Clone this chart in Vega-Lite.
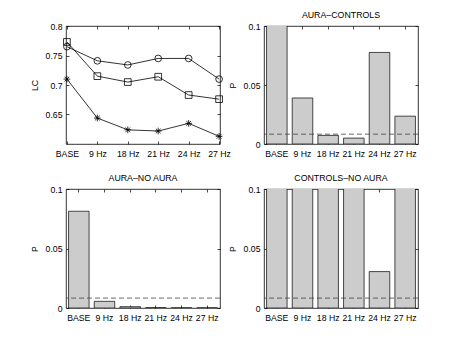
{
  "$schema": "https://vega.github.io/schema/vega-lite/v6.json",
  "padding": {"left": 29, "top": 10, "right": 5, "bottom": 5},
  "background": "white",
  "datasets": {
    "lc": [
      {"freq": "BASE", "series": "circle", "value": 0.765},
      {"freq": "9 Hz", "series": "circle", "value": 0.741},
      {"freq": "18 Hz", "series": "circle", "value": 0.734},
      {"freq": "21 Hz", "series": "circle", "value": 0.745},
      {"freq": "24 Hz", "series": "circle", "value": 0.745},
      {"freq": "27 Hz", "series": "circle", "value": 0.710},
      {"freq": "BASE", "series": "square", "value": 0.773},
      {"freq": "9 Hz", "series": "square", "value": 0.715},
      {"freq": "18 Hz", "series": "square", "value": 0.705},
      {"freq": "21 Hz", "series": "square", "value": 0.714},
      {"freq": "24 Hz", "series": "square", "value": 0.683},
      {"freq": "27 Hz", "series": "square", "value": 0.676},
      {"freq": "BASE", "series": "star", "value": 0.710},
      {"freq": "9 Hz", "series": "star", "value": 0.644},
      {"freq": "18 Hz", "series": "star", "value": 0.624},
      {"freq": "21 Hz", "series": "star", "value": 0.622},
      {"freq": "24 Hz", "series": "star", "value": 0.635},
      {"freq": "27 Hz", "series": "star", "value": 0.613}
    ],
    "p": [
      {"panel": "AURA–CONTROLS", "freq": "BASE", "value": 0.2},
      {"panel": "AURA–CONTROLS", "freq": "9 Hz", "value": 0.039},
      {"panel": "AURA–CONTROLS", "freq": "18 Hz", "value": 0.0073},
      {"panel": "AURA–CONTROLS", "freq": "21 Hz", "value": 0.005},
      {"panel": "AURA–CONTROLS", "freq": "24 Hz", "value": 0.0776},
      {"panel": "AURA–CONTROLS", "freq": "27 Hz", "value": 0.0236},
      {"panel": "AURA–NO AURA", "freq": "BASE", "value": 0.0813},
      {"panel": "AURA–NO AURA", "freq": "9 Hz", "value": 0.0056},
      {"panel": "AURA–NO AURA", "freq": "18 Hz", "value": 0.0011},
      {"panel": "AURA–NO AURA", "freq": "21 Hz", "value": 0.0002},
      {"panel": "AURA–NO AURA", "freq": "24 Hz", "value": 0.0001},
      {"panel": "AURA–NO AURA", "freq": "27 Hz", "value": 0.0001},
      {"panel": "CONTROLS–NO AURA", "freq": "BASE", "value": 0.3},
      {"panel": "CONTROLS–NO AURA", "freq": "9 Hz", "value": 0.3},
      {"panel": "CONTROLS–NO AURA", "freq": "18 Hz", "value": 0.3},
      {"panel": "CONTROLS–NO AURA", "freq": "21 Hz", "value": 0.3},
      {"panel": "CONTROLS–NO AURA", "freq": "24 Hz", "value": 0.0306},
      {"panel": "CONTROLS–NO AURA", "freq": "27 Hz", "value": 0.3}
    ],
    "thr": [{"value": 0.00833}]
  },
  "columns": 2,
  "spacing": {"row": 14, "column": -4},
  "concat": [
    {
      "width": 154,
      "height": 118,
      "data": {"name": "lc"},
      "layer": [
        {
          "mark": {"type": "line", "color": "#000", "strokeWidth": 0.8},
          "encoding": {
            "x": {"field": "freq", "type": "ordinal", "sort": ["BASE", "9 Hz", "18 Hz", "21 Hz", "24 Hz", "27 Hz"], "scale": {"type": "point", "padding": 0.03}, "axis": {"title": null, "labelAngle": 0}},
            "y": {"field": "value", "type": "quantitative", "scale": {"domain": [0.6, 0.8], "nice": false, "zero": false}, "axis": {"title": "LC", "values": [0.65, 0.7, 0.75, 0.8], "format": ".2~f"}},
            "detail": {"field": "series"}
          }
        },
        {
          "mark": {"type": "point", "filled": false, "color": "#000", "strokeWidth": 0.8, "opacity": 1},
          "encoding": {
            "x": {"field": "freq", "type": "ordinal", "sort": ["BASE", "9 Hz", "18 Hz", "21 Hz", "24 Hz", "27 Hz"], "axis": {"orient": "top", "labels": false, "title": null, "labelPadding": 0}},
            "y": {"field": "value", "type": "quantitative", "axis": {"orient": "right", "labels": false, "title": null, "labelPadding": 0, "values": [0.65, 0.7, 0.75, 0.8]}},
            "shape": {"field": "series", "type": "nominal", "legend": null, "scale": {"domain": ["circle", "square", "star"], "range": ["circle", "square", "M-1,0L1,0M0,-1L0,1M-0.7,-0.7L0.7,0.7M-0.7,0.7L0.7,-0.7"]}},
            "size": {"value": 45}
          }
        }
      ],
      "resolve": {"axis": {"x": "independent", "y": "independent"}}
    },
    {
      "width": 154,
      "height": 118,
      "title": "AURA–CONTROLS",
      "layer": [
        {
          "data": {"name": "p"},
          "transform": [{"filter": "datum.panel == 'AURA–CONTROLS'"}],
          "mark": {"type": "bar", "fill": "#cccccc", "stroke": "#000", "strokeWidth": 0.7, "clip": true},
          "encoding": {
            "x": {"field": "freq", "type": "ordinal", "sort": ["BASE", "9 Hz", "18 Hz", "21 Hz", "24 Hz", "27 Hz"], "scale": {"paddingInner": 0.2, "paddingOuter": 0.1}, "axis": {"title": null, "labelAngle": 0}},
            "y": {"field": "value", "type": "quantitative", "scale": {"domain": [0, 0.1], "nice": false}, "axis": {"title": "P", "values": [0, 0.05, 0.1], "format": ".2~f"}}
          }
        },
        {
          "data": {"name": "p"},
          "transform": [{"filter": "datum.panel == 'AURA–CONTROLS'"}],
          "mark": {"type": "tick", "opacity": 0},
          "encoding": {
            "x": {"field": "freq", "type": "ordinal", "sort": ["BASE", "9 Hz", "18 Hz", "21 Hz", "24 Hz", "27 Hz"], "axis": {"orient": "top", "labels": false, "title": null, "labelPadding": 0}},
            "y": {"datum": 0, "type": "quantitative", "axis": {"orient": "right", "labels": false, "title": null, "labelPadding": 0, "values": [0, 0.05, 0.1]}}
          }
        },
        {
          "data": {"name": "thr"},
          "mark": {"type": "rule", "color": "#444", "strokeWidth": 0.8, "strokeDash": [5, 3]},
          "encoding": {"y": {"field": "value", "type": "quantitative", "axis": null}}
        }
      ],
      "resolve": {"axis": {"x": "independent", "y": "independent"}}
    },
    {
      "width": 154,
      "height": 119,
      "title": "AURA–NO AURA",
      "layer": [
        {
          "data": {"name": "p"},
          "transform": [{"filter": "datum.panel == 'AURA–NO AURA'"}],
          "mark": {"type": "bar", "fill": "#cccccc", "stroke": "#000", "strokeWidth": 0.7, "clip": true},
          "encoding": {
            "x": {"field": "freq", "type": "ordinal", "sort": ["BASE", "9 Hz", "18 Hz", "21 Hz", "24 Hz", "27 Hz"], "scale": {"paddingInner": 0.2, "paddingOuter": 0.1}, "axis": {"title": null, "labelAngle": 0}},
            "y": {"field": "value", "type": "quantitative", "scale": {"domain": [0, 0.1], "nice": false}, "axis": {"title": "P", "values": [0, 0.05, 0.1], "format": ".2~f"}}
          }
        },
        {
          "data": {"name": "p"},
          "transform": [{"filter": "datum.panel == 'AURA–NO AURA'"}],
          "mark": {"type": "tick", "opacity": 0},
          "encoding": {
            "x": {"field": "freq", "type": "ordinal", "sort": ["BASE", "9 Hz", "18 Hz", "21 Hz", "24 Hz", "27 Hz"], "axis": {"orient": "top", "labels": false, "title": null, "labelPadding": 0}},
            "y": {"datum": 0, "type": "quantitative", "axis": {"orient": "right", "labels": false, "title": null, "labelPadding": 0, "values": [0, 0.05, 0.1]}}
          }
        },
        {
          "data": {"name": "thr"},
          "mark": {"type": "rule", "color": "#444", "strokeWidth": 0.8, "strokeDash": [5, 3]},
          "encoding": {"y": {"field": "value", "type": "quantitative", "axis": null}}
        }
      ],
      "resolve": {"axis": {"x": "independent", "y": "independent"}}
    },
    {
      "width": 154,
      "height": 119,
      "title": "CONTROLS–NO AURA",
      "layer": [
        {
          "data": {"name": "p"},
          "transform": [{"filter": "datum.panel == 'CONTROLS–NO AURA'"}],
          "mark": {"type": "bar", "fill": "#cccccc", "stroke": "#000", "strokeWidth": 0.7, "clip": true},
          "encoding": {
            "x": {"field": "freq", "type": "ordinal", "sort": ["BASE", "9 Hz", "18 Hz", "21 Hz", "24 Hz", "27 Hz"], "scale": {"paddingInner": 0.2, "paddingOuter": 0.1}, "axis": {"title": null, "labelAngle": 0}},
            "y": {"field": "value", "type": "quantitative", "scale": {"domain": [0, 0.1], "nice": false}, "axis": {"title": "P", "values": [0, 0.05, 0.1], "format": ".2~f"}}
          }
        },
        {
          "data": {"name": "p"},
          "transform": [{"filter": "datum.panel == 'CONTROLS–NO AURA'"}],
          "mark": {"type": "tick", "opacity": 0},
          "encoding": {
            "x": {"field": "freq", "type": "ordinal", "sort": ["BASE", "9 Hz", "18 Hz", "21 Hz", "24 Hz", "27 Hz"], "axis": {"orient": "top", "labels": false, "title": null, "labelPadding": 0}},
            "y": {"datum": 0, "type": "quantitative", "axis": {"orient": "right", "labels": false, "title": null, "labelPadding": 0, "values": [0, 0.05, 0.1]}}
          }
        },
        {
          "data": {"name": "thr"},
          "mark": {"type": "rule", "color": "#444", "strokeWidth": 0.8, "strokeDash": [5, 3]},
          "encoding": {"y": {"field": "value", "type": "quantitative", "axis": null}}
        }
      ],
      "resolve": {"axis": {"x": "independent", "y": "independent"}}
    }
  ],
  "config": {
    "font": "Liberation Sans",
    "view": {"stroke": "#000", "strokeWidth": 0.8},
    "axis": {
      "domain": false,
      "grid": false,
      "ticks": true,
      "tickSize": -3,
      "tickColor": "#000",
      "tickWidth": 0.7,
      "minExtent": 0,
      "labelFont": "Liberation Sans",
      "labelFontSize": 8.7,
      "labelColor": "#000",
      "labelPadding": 7,
      "titleFont": "Liberation Sans",
      "titleFontSize": 8.7,
      "titleFontWeight": "normal",
      "titleColor": "#000",
      "titlePadding": 6
    },
    "axisX": {"labelPadding": 8},
    "title": {"font": "Liberation Sans", "fontSize": 8.8, "fontWeight": "normal", "color": "#000", "offset": 2}
  }
}
